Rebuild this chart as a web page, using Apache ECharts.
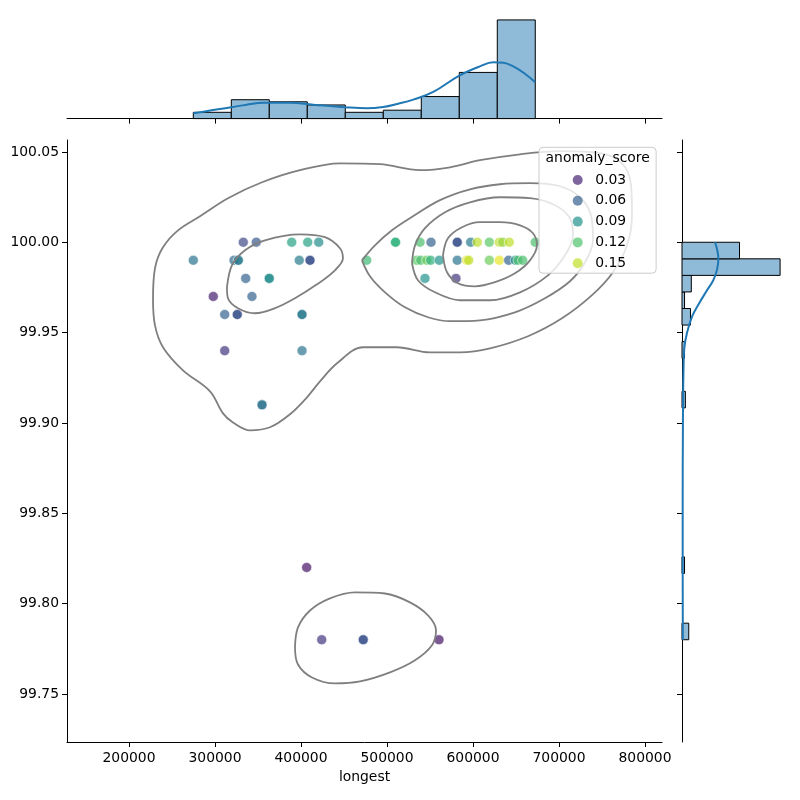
<!DOCTYPE html>
<html>
<head>
<meta charset="utf-8">
<script src="https://cdn.jsdelivr.net/npm/echarts@6/dist/echarts.min.js"></script>
<style>html,body{margin:0;padding:0;background:#fff}#c{width:800px;height:800px}</style>
</head>
<body>
<div id="c"></div>
<script>
// ---------- data ----------
// last row: points that sit on top of an identical point (they look darker in the picture)
const longest = [
  332900,348000,389200,407800,420600,509900,538400,551200,581700,597300,605000,619000,630600,634500,642200,672400,
  274770,322100,327100,398000,410500,476400,534500,539200,546200,550800,560800,581700,592700,595000,619000,630600,641500,649200,652300,657800,
  335700,363100,544200,580200,
  298000,343000,
  311300,325900,401200,
  311300,401200,
  354700,
  406600,
  424100,472400,560500,
  410500,581700,325900,363100,354700,401200,509900,472400,327100
];
const identity = [
  100.00,100.00,100.00,100.00,100.00,100.00,100.00,100.00,100.00,100.00,100.00,100.00,100.00,100.00,100.00,100.00,
  99.99,99.99,99.99,99.99,99.99,99.99,99.99,99.99,99.99,99.99,99.99,99.99,99.99,99.99,99.99,99.99,99.99,99.99,99.99,99.99,
  99.98,99.98,99.98,99.98,
  99.97,99.97,
  99.96,99.96,99.96,
  99.94,99.94,
  99.91,
  99.82,
  99.78,99.78,99.78,
  99.99,100.00,99.96,99.98,99.91,99.96,100.00,99.78,99.99
];
const anomalyScore = [
  0.045,0.055,0.10,0.10,0.085,0.11,0.12,0.06,0.05,0.075,0.15,0.125,0.15,0.14,0.15,0.12,
  0.07,0.065,0.075,0.075,0.05,0.115,0.125,0.12,0.13,0.11,0.09,0.07,0.16,0.15,0.13,0.16,0.06,0.09,0.12,0.12,
  0.06,0.085,0.09,0.035,
  0.025,0.06,
  0.06,0.05,0.075,
  0.035,0.07,
  0.07,
  0.02,
  0.035,0.05,0.02,
  0.05,0.05,0.05,0.085,0.07,0.075,0.11,0.05,0.075
];
const legendLabels = ['0.03','0.06','0.09','0.12','0.15'];
const legendColors = ['#482475','#35608d','#21918c','#4ec36b','#bddf26'];

const xTicks = [200000,300000,400000,500000,600000,700000,800000];
const yTicks = [99.75,99.80,99.85,99.90,99.95,100.00,100.05];

// top marginal histogram (counts per bin)
const topBinEdges = [274770,318956,363142,407328,451514,495700,539886,584072,628258,672444];
const topCounts = [6,18,16,13,6,8,21,44,94];
const topKdeX = [274770,296000,318600,337000,356200,387200,414300,452000,476400,495700,512000,530600,553800,584100,608100,623600,635200,646900,660000,672400];
const topKdeY = [5.0,8.0,10.8,13.3,15.0,15.2,13.3,10.8,9.8,11.1,14.0,18.1,25.4,41.0,49.8,53.6,53.3,49.8,43.0,34.6];

// right marginal histogram (counts per bin, bins from 99.78 to 100.00)
const rightBinStart = 99.78, rightBinEnd = 100.00;
const rightCounts = [8,0,0,0,3,0,0,0,0,0,0,0,0,0,4,0,0,3,0,10,3,11,116,68];
const rightKdeY = [99.78,99.80,99.83,99.86,99.89,99.915,99.93,99.941,99.95,99.959,99.966,99.973,99.979,99.985,99.991,99.996,100.00];
const rightKdeX = [1.0,0.9,0.8,0.8,1.0,1.3,1.8,2.6,6.0,12,20,29,37,41.5,43,41.5,39];

// KDE contour lines, x and y in data units
const contourOuterX = [227900,230200,239500,257000,282600,315100,354700,398800,445300,491900,538400,573300,608100,654700,701200,747700,773300,783800,784900,779100,762800,738400,703500,664000,619800,584900,550000,511600,472100,441900,422100,407000,387200,364000,340700,320900,309300,294200,262800,239500,230200,227900];
const contourOuterY = [99.9679,99.9856,99.9972,100.0066,100.0144,100.0244,100.0332,100.0399,100.0437,100.0432,100.0399,100.0415,100.0454,100.0487,100.0504,100.0493,100.0437,100.0316,100.0150,99.9983,99.9834,99.9707,99.9579,99.9480,99.9413,99.9391,99.9391,99.9419,99.9419,99.9330,99.9230,99.9142,99.9048,99.8976,99.8959,99.9003,99.9053,99.9175,99.9291,99.9419,99.9540,99.9679];
const contourBottomX = [393000,396500,410500,433700,462800,497700,526700,547700,557000,552300,532600,503500,468600,439500,412800,396500,393000];
const contourBottomY = [99.7757,99.7868,99.7962,99.8029,99.8062,99.8056,99.8007,99.7935,99.7852,99.7769,99.7686,99.7619,99.7569,99.7558,99.7591,99.7663,99.7757];
const contourLeftX = [313900,319800,334900,358100,398800,427900,445300,448800,439500,418600,393000,369800,346500,326700,315100,313900];
const contourLeftY = [99.9751,99.9873,99.9956,100.0011,100.0044,100.0028,99.9967,99.9911,99.9845,99.9767,99.9690,99.9635,99.9607,99.9635,99.9690,99.9751];
const contourRight2X = [470900,486000,505800,526700,561600,596500,631400,666300,701200,724400,737200,739600,730300,712800,683700,648800,608100,573300,547700,520900,497700,480200,470900];
const contourRight2Y = [99.9900,99.9983,100.0066,100.0133,100.0233,100.0293,100.0321,100.0327,100.0310,100.0249,100.0150,100.0011,99.9889,99.9784,99.9690,99.9612,99.9568,99.9563,99.9585,99.9640,99.9723,99.9812,99.9900];
const contourRight3X = [529100,532600,544200,567500,596500,631400,666300,695400,712800,716300,707000,687200,654700,619800,584900,555800,536000,529100];
const contourRight3Y = [99.9884,99.9983,100.0078,100.0166,100.0221,100.0249,100.0244,100.0205,100.0133,100.0039,99.9928,99.9817,99.9723,99.9679,99.9679,99.9723,99.9790,99.9884];
const contourRight4X = [565100,570900,587200,608100,631400,654700,669800,674400,666300,648800,625600,602300,582500,569800,565100];
const contourRight4Y = [99.9928,100.0022,100.0083,100.0111,100.0111,100.0094,100.0050,99.9983,99.9900,99.9828,99.9779,99.9756,99.9773,99.9834,99.9928];

// ---------- chart ----------
const FONT = 'DejaVu Sans';
const X_MIN = 127900, X_MAX = 819800;
const Y_MIN = 99.7234, Y_MAX = 100.0566;
const viridis = ['#440154','#472d7b','#3b528b','#2c728e','#21918c','#28ae80','#5ec962','#addc30','#fde725'];
const histFill = '#8fbbd9';
const kdeBlue = '#1f77b4';

const zip = (a, b) => a.map((v, i) => [v, b[i]]);
const contours = [
  [contourOuterX, contourOuterY], [contourBottomX, contourBottomY], [contourLeftX, contourLeftY],
  [contourRight2X, contourRight2Y], [contourRight3X, contourRight3Y], [contourRight4X, contourRight4Y]
];

const chart = echarts.init(document.getElementById('c'), null, {renderer: 'canvas'});

const blackLine = {show: true, onZero: false, lineStyle: {color: '#000', width: 1}};
const tickStyle = (vals) => ({show: true, customValues: vals, length: 5, inside: false, lineStyle: {color: '#000', width: 1}});

const topHistData = topCounts.map((c, i) => [topBinEdges[i], topBinEdges[i + 1], c]);
const rStep = (rightBinEnd - rightBinStart) / rightCounts.length;
const rightHistData = rightCounts.map((c, i) => [rightBinStart + i * rStep, rightBinStart + (i + 1) * rStep, c]).filter(d => d[2] > 0);

const series = [];
series.push({
  type: 'scatter', xAxisIndex: 0, yAxisIndex: 0,
  data: longest.map((x, i) => [x, identity[i], anomalyScore[i]]),
  symbolSize: 10,
  itemStyle: {opacity: 0.7, borderColor: '#ffffff', borderWidth: 0.8},
  z: 2, silent: true
});
legendLabels.forEach((n, i) => series.push({
  type: 'scatter', name: n, xAxisIndex: 0, yAxisIndex: 0, data: [],
  itemStyle: {color: legendColors[i], opacity: 0.7}
}));
contours.forEach(c => series.push({
  type: 'line', xAxisIndex: 0, yAxisIndex: 0, data: zip(c[0], c[1]),
  smooth: 0.35, symbol: 'none', silent: true, z: 3,
  lineStyle: {color: '#7f7f7f', width: 1.8}
}));
series.push({
  type: 'custom', xAxisIndex: 1, yAxisIndex: 1, data: topHistData, silent: true,
  renderItem: function (params, api) {
    const p0 = api.coord([api.value(0), 0]);
    const p1 = api.coord([api.value(1), api.value(2)]);
    return {type: 'rect', shape: {x: p0[0], y: p1[1], width: p1[0] - p0[0], height: p0[1] - p1[1]},
      style: {fill: histFill, stroke: '#000', lineWidth: 1}};
  }
});
series.push({
  type: 'line', xAxisIndex: 1, yAxisIndex: 1, data: zip(topKdeX, topKdeY),
  smooth: 0.4, symbol: 'none', silent: true, z: 4, lineStyle: {color: kdeBlue, width: 2}
});
series.push({
  type: 'custom', xAxisIndex: 2, yAxisIndex: 2, data: rightHistData, silent: true,
  renderItem: function (params, api) {
    const p0 = api.coord([0, api.value(0)]);
    const p1 = api.coord([api.value(2), api.value(1)]);
    return {type: 'rect', shape: {x: p0[0], y: p1[1], width: p1[0] - p0[0], height: p0[1] - p1[1]},
      style: {fill: histFill, stroke: '#000', lineWidth: 1}};
  }
});
series.push({
  type: 'line', xAxisIndex: 2, yAxisIndex: 2, data: zip(rightKdeX, rightKdeY),
  smooth: 0.4, symbol: 'none', silent: true, z: 4, lineStyle: {color: kdeBlue, width: 2}
});

chart.setOption({
  animation: false,
  backgroundColor: '#ffffff',
  textStyle: {fontFamily: FONT},
  grid: [
    {left: 67, right: 138, top: 140, bottom: 58},
    {left: 67, right: 138, top: 15, height: 103.6},
    {left: 682, width: 103, top: 140, bottom: 58}
  ],
  xAxis: [
    {gridIndex: 0, type: 'value', min: X_MIN, max: X_MAX, axisLine: blackLine, axisTick: tickStyle(xTicks),
     axisLabel: {customValues: xTicks, color: '#000', fontSize: 13.9, margin: 9, fontFamily: FONT,
       formatter: v => String(Math.round(v))},
     splitLine: {show: false}, name: 'longest', nameLocation: 'middle', nameGap: 28,
     nameTextStyle: {color: '#000', fontSize: 13.9, fontFamily: FONT}},
    {gridIndex: 1, type: 'value', min: X_MIN, max: X_MAX, axisLine: blackLine, axisTick: tickStyle(xTicks),
     axisLabel: {show: false, customValues: xTicks}, splitLine: {show: false}},
    {gridIndex: 2, type: 'value', min: 0, max: 121.8, show: false, splitLine: {show: false}}
  ],
  yAxis: [
    {gridIndex: 0, type: 'value', min: Y_MIN, max: Y_MAX, axisLine: blackLine, axisTick: tickStyle(yTicks),
     axisLabel: {customValues: yTicks, color: '#000', fontSize: 13.9, margin: 8, fontFamily: FONT,
       formatter: v => v.toFixed(2)}, splitLine: {show: false}},
    {gridIndex: 1, type: 'value', min: 0, max: 98.7, show: false, splitLine: {show: false}},
    {gridIndex: 2, type: 'value', min: Y_MIN, max: Y_MAX, axisLine: blackLine, axisTick: tickStyle(yTicks),
     axisLabel: {show: false, customValues: yTicks}, splitLine: {show: false}}
  ],
  visualMap: {type: 'continuous', show: false, seriesIndex: 0, dimension: 2, min: 0.012, max: 0.165,
    inRange: {color: viridis}},
  legend: {
    data: legendLabels, orient: 'vertical', left: 539, top: 147.3,
    padding: [25.7, 30, 3, 33.7], itemWidth: 25, itemHeight: 10, itemGap: 6.8, icon: 'circle',
    selectedMode: false, backgroundColor: 'rgba(255,255,255,0.8)', borderColor: '#cccccc', borderWidth: 1, borderRadius: 4,
    textStyle: {color: '#000', fontSize: 13.9, lineHeight: 14, fontFamily: FONT}, z: 10
  },
  graphic: [{
    type: 'text', x: 597.7, y: 158.3, z: 100,
    style: {text: 'anomaly_score', align: 'center', verticalAlign: 'middle', fontSize: 13.9, fontFamily: FONT, fill: '#000'}
  }],
  series: series
});
</script>
</body>
</html>
